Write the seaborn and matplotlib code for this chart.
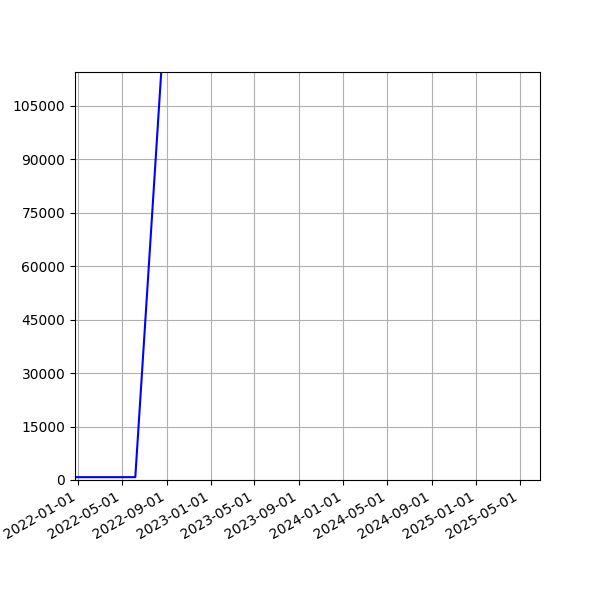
import matplotlib
matplotlib.use("Agg")
import matplotlib.pyplot as plt
import matplotlib.dates as mdates
import pandas as pd
import seaborn as sns

# values
dates = ["2021-12-23", "2022-01-01", "2022-02-01", "2022-03-01", "2022-04-01",
         "2022-05-01", "2022-06-07", "2022-09-01", "2025-06-25"]
values = [800, 800, 800, 800, 800, 800, 800, 137800, 300000]

x_start, x_end = "2021-12-23", "2025-06-25"
y_top = 114500

df = pd.DataFrame({"date": pd.to_datetime(dates), "value": values})

fig, ax = plt.subplots(figsize=(6, 6), dpi=100)
sns.lineplot(data=df, x="date", y="value", ax=ax, color="blue", linewidth=1.5)

ax.set_xlim(pd.Timestamp(x_start), pd.Timestamp(x_end))
ax.set_ylim(0, y_top)
ax.yaxis.set_major_locator(plt.MultipleLocator(15000))
ax.xaxis.set_major_locator(mdates.MonthLocator(bymonth=[1, 5, 9]))
ax.xaxis.set_major_formatter(mdates.DateFormatter("%Y-%m-%d"))
ax.set_xlabel("")
ax.set_ylabel("")
ax.grid(True)
fig.autofmt_xdate()

fig.savefig("out.png")
